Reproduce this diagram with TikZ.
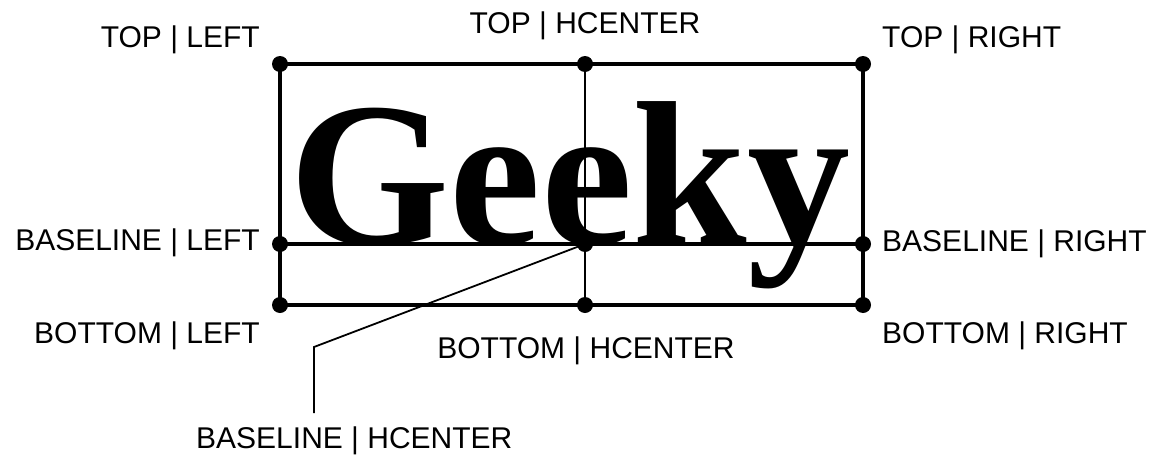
\documentclass[tikz,border=0pt]{standalone}
\usepackage{fontspec}
\setmainfont{Liberation Sans}
\newfontfamily\geekyfont{Liberation Serif}
\usetikzlibrary{positioning}

\begin{document}
\begin{tikzpicture}[x=1pt, y=-1pt,
  dot/.style={circle, fill=black, inner sep=0pt, minimum size=16pt},
  frame/.style={line width=3.2pt, black},
  lab/.style={inner sep=0pt, font=\fontsize{30}{30}\selectfont},
  leader/.style={line width=1.8pt, black}]
  \useasboundingbox (0,0) rectangle (1150,455);
  % the sample word
  \node[inner sep=0pt, anchor=base, font=\geekyfont\bfseries\fontsize{206}{206}\selectfont]
    (word) at (570,244) {Geeky};
  % anchor points: top, baseline, bottom
  \node[dot] (tl) at (280,64)  {};
  \node[dot] (tc) at (585,64)  {};
  \node[dot] (tr) at (863,64)  {};
  \node[dot] (bl) at (280,244) {};
  \node[dot] (bc) at (585,244) {};
  \node[dot] (br) at (863,244) {};
  \node[dot] (ml) at (280,305) {};
  \node[dot] (mc) at (585,305) {};
  \node[dot] (mr) at (863,305) {};
  % frame and guide lines
  \draw[frame] (tl.center) -- (tr.center) -- (mr.center) -- (ml.center) -- cycle;
  \draw[frame] (bl.center) -- (br.center);
  \draw[line width=2pt] (tc.center) -- (mc.center);
  % labels
  \node[lab, anchor=base east] (ltl) at (260,47)  {TOP | LEFT};
  \node[lab, anchor=base]      (ltc) at (585,33)  {TOP | HCENTER};
  \node[lab, anchor=base west] (ltr) at (882,47)  {TOP | RIGHT};
  \node[lab, anchor=base east] (lbl) at (260,250) {BASELINE | LEFT};
  \node[lab, anchor=base west] (lbr) at (882,251) {BASELINE | RIGHT};
  \node[lab, anchor=base east] (lml) at (260,343) {BOTTOM | LEFT};
  \node[lab, anchor=base]      (lmc) at (586,358) {BOTTOM | HCENTER};
  \node[lab, anchor=base west] (lmr) at (882,343) {BOTTOM | RIGHT};
  \node[lab, anchor=base west] (lbc) at (196,448) {BASELINE | HCENTER};
  % leader to the baseline centre
  \coordinate (bend) at (314,347);
  \coordinate (foot) at (314,413);
  \draw[leader] (bc.center) -- (bend) -- (foot);
\end{tikzpicture}
\end{document}
